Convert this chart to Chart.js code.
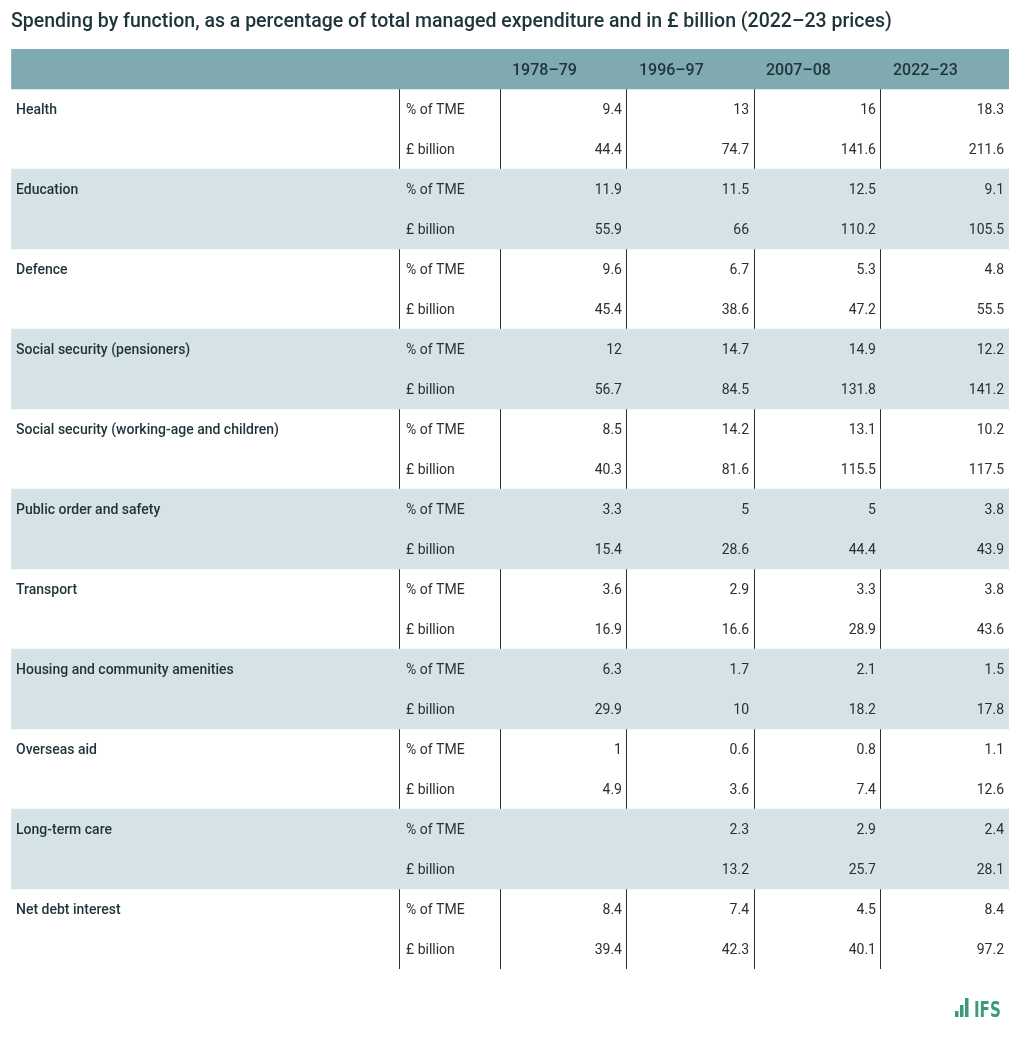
<!DOCTYPE html>
<html>
<head>
<meta charset="utf-8">
<script src="https://cdn.jsdelivr.net/npm/chart.js@4"></script>
<style>
  html, body { margin: 0; padding: 0; background: #fff; }
  #wrap { width: 1020px; height: 1045px; position: relative; }
</style>
</head>
<body>
<div id="wrap"><canvas id="tableChart"></canvas></div>
<script>
// data
const functions = ['Health', 'Education', 'Defence', 'Social security (pensioners)',
  'Social security (working-age and children)', 'Public order and safety', 'Transport',
  'Housing and community amenities', 'Overseas aid', 'Long-term care', 'Net debt interest'];
const years = ['1978–79', '1996–97', '2007–08', '2022–23'];
const units = ['% of TME', '£ billion'];

const pct7879 = [9.4, 11.9, 9.6, 12, 8.5, 3.3, 3.6, 6.3, 1, null, 8.4];
const pct9697 = [13, 11.5, 6.7, 14.7, 14.2, 5, 2.9, 1.7, 0.6, 2.3, 7.4];
const pct0708 = [16, 12.5, 5.3, 14.9, 13.1, 5, 3.3, 2.1, 0.8, 2.9, 4.5];
const pct2223 = [18.3, 9.1, 4.8, 12.2, 10.2, 3.8, 3.8, 1.5, 1.1, 2.4, 8.4];

const bn7879 = [44.4, 55.9, 45.4, 56.7, 40.3, 15.4, 16.9, 29.9, 4.9, null, 39.4];
const bn9697 = [74.7, 66, 38.6, 84.5, 81.6, 28.6, 16.6, 10, 3.6, 13.2, 42.3];
const bn0708 = [141.6, 110.2, 47.2, 131.8, 115.5, 44.4, 28.9, 18.2, 7.4, 25.7, 40.1];
const bn2223 = [211.6, 105.5, 55.5, 141.2, 117.5, 43.9, 43.6, 17.8, 12.6, 28.1, 97.2];

const pctCols = [pct7879, pct9697, pct0708, pct2223];
const bnCols = [bn7879, bn9697, bn0708, bn2223];

// layout: column edges as a share of table width
const colEdges = [0, 0.3888, 0.49, 0.6172, 0.7445, 0.8717, 1];

const rowKeys = ['header'];
functions.forEach(f => { rowKeys.push(f + '|pct'); rowKeys.push(f + '|bn'); });

const headerBar = rowKeys.map((k, i) => i === 0 ? [0, 1] : null);
const bandBars = rowKeys.map((k, i) => (i > 0 && Math.floor((i - 1) / 2) % 2 === 1) ? [0, 1] : null);

const textColor = '#2b2f30';
const darkColor = '#1d3438';

const tableText = {
  id: 'tableText',
  afterDraw(chart) {
    const { ctx } = chart;
    const x = chart.scales.x;
    const y = chart.scales.y;
    const px = v => x.getPixelForValue(v);
    ctx.save();
    ctx.textBaseline = 'middle';

    // header
    ctx.fillStyle = darkColor;
    ctx.font = '500 16px Roboto';
    ctx.textAlign = 'left';
    years.forEach((yr, j) => {
      ctx.fillText(yr, px(colEdges[j + 2]) + 12, y.getPixelForValue(0) + 2);
    });

    functions.forEach((f, i) => {
      const r1 = y.getPixelForValue(1 + i * 2) + 1.5;
      const r2 = y.getPixelForValue(2 + i * 2) + 1.5;
      ctx.textAlign = 'left';
      ctx.fillStyle = darkColor;
      ctx.font = '500 14px Roboto';
      ctx.fillText(f, px(colEdges[0]) + 5, r1);
      ctx.fillStyle = textColor;
      ctx.font = '400 14px Roboto';
      ctx.fillText(units[0], px(colEdges[1]) + 7, r1);
      ctx.fillText(units[1], px(colEdges[1]) + 7, r2);
      ctx.textAlign = 'right';
      for (let j = 0; j < years.length; j++) {
        const xr = px(colEdges[j + 3]) - 5;
        if (pctCols[j][i] !== null) ctx.fillText(String(pctCols[j][i]), xr, r1);
        if (bnCols[j][i] !== null) ctx.fillText(String(bnCols[j][i]), xr, r2);
      }
    });

    // IFS logo
    const lx = 955, ly = 1017;
    ctx.fillStyle = '#3a9a73';
    ctx.fillRect(lx, ly - 6, 3.5, 6);
    ctx.fillRect(lx + 5, ly - 12, 3.5, 12);
    ctx.fillRect(lx + 10, ly - 19, 3.5, 19);
    ctx.translate(lx + 19, ly);
    ctx.scale(0.8, 1);
    ctx.textAlign = 'left';
    ctx.textBaseline = 'alphabetic';
    ctx.font = 'bold 21px "DejaVu Sans Condensed", "DejaVu Sans"';
    ctx.fillText('IFS', 0, 0);
    ctx.restore();
  }
};

new Chart(document.getElementById('tableChart'), {
  type: 'bar',
  data: {
    labels: rowKeys,
    datasets: [
      { label: 'header', data: headerBar, backgroundColor: '#80aab1', grouped: false, borderWidth: 0 },
      { label: 'band', data: bandBars, backgroundColor: '#d5e3e8', grouped: false, borderWidth: 0 }
    ]
  },
  options: {
    indexAxis: 'y',
    responsive: true,
    maintainAspectRatio: false,
    animation: false,
    datasets: { bar: { barPercentage: 1, categoryPercentage: 1 } },
    layout: { padding: { left: 11, right: 11, top: 0, bottom: 76 } },
    scales: {
      x: {
        type: 'linear',
        min: 0,
        max: 1,
        z: 1,
        afterBuildTicks: scale => { scale.ticks = colEdges.map(v => ({ value: v })); },
        ticks: { display: false },
        border: { display: false },
        grid: {
          drawTicks: false,
          lineWidth: 1,
          color: c => (c.index === 0 || c.index === colEdges.length - 1) ? 'rgba(0,0,0,0)' : darkColor
        }
      },
      y: { type: 'category', display: false }
    },
    plugins: {
      legend: { display: false },
      tooltip: { enabled: false },
      title: {
        display: true,
        text: 'Spending by function, as a percentage of total managed expenditure and in £ billion (2022–23 prices)',
        align: 'start',
        color: '#1d3438',
        font: { family: 'Roboto', size: 19.5, weight: '500' },
        padding: { top: 10, bottom: 15.6 }
      }
    }
  },
  plugins: [tableText]
});
</script>
</body>
</html>
